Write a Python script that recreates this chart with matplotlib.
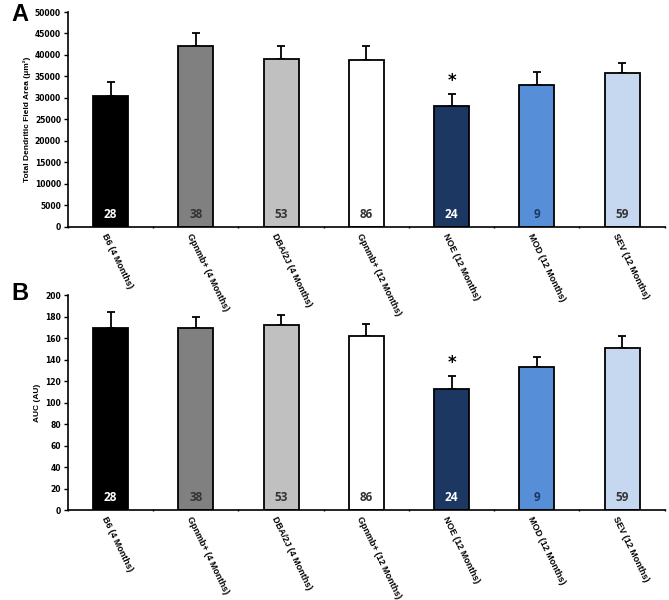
import numpy as np
import matplotlib.pyplot as plt

# Данные
groups = ['B6 (4 Months)', 'Gpnmb+ (4 Months)', 'DBA/2J (4 Months)', 'Gpnmb+ (12 Months)',
          'NOE (12 Months)', 'MOD (12 Months)', 'SEV (12 Months)']
n_counts = [28, 38, 53, 86, 24, 9, 59]
area_mean = [30500, 42200, 39100, 38800, 28100, 33000, 35700]
area_err = [3200, 3000, 2900, 3200, 2800, 3100, 2400]
auc_mean = [170, 170, 172, 162, 113, 133, 151]
auc_err = [14, 10, 10, 11, 12, 10, 11]
sig = [False, False, False, False, True, False, False]

colors = ['#000000', '#808080', '#c0c0c0', '#ffffff', '#1c3862', '#568fd8', '#c6d8f0']
n_colors = ['white', '#333333', '#333333', '#333333', 'white', '#1c3862', '#333333']

fig = plt.figure(figsize=(6.69, 6.0), dpi=100)
ax_a = fig.add_axes([0.1016, 0.6217, 0.892, 0.3583])
ax_b = fig.add_axes([0.1016, 0.15, 0.892, 0.3578])

x = np.arange(len(groups))


def draw_panel(ax, means, errs, ymax, ystep, ylabel, letter, letter_y):
    ax.patch.set_alpha(0)
    ax.bar(x, means, width=0.41, color=colors, edgecolor='black', linewidth=1.3, zorder=2)
    ax.errorbar(x, means, yerr=[np.zeros(len(errs)), errs], fmt='none', ecolor='black',
                elinewidth=1.3, capsize=3, capthick=1.3, zorder=1)
    ax.set_xlim(-0.5, len(groups) - 0.5)
    ax.set_ylim(0, ymax)
    ax.set_yticks(np.arange(0, ymax + 1, ystep))
    ax.tick_params(axis='y', labelsize=5.5, length=3, width=1, pad=2)
    for lab in ax.get_yticklabels():
        lab.set_fontweight('bold')
    ax.set_xticks(np.arange(len(groups) + 1) - 0.5, minor=False)
    ax.set_xticklabels([])
    ax.tick_params(axis='x', length=2, width=1, direction='inout')
    for i, g in enumerate(groups):
        ax.annotate(g, xy=(i - 0.08, 0), xycoords=('data', 'axes fraction'), xytext=(0, -5),
                    textcoords='offset points', rotation=-64, rotation_mode='anchor',
                    ha='left', va='center', fontsize=6.5, fontweight='bold',
                    family='Liberation Sans', annotation_clip=False, zorder=5)
    for i, n in enumerate(n_counts):
        ax.text(i, ymax * 0.056, str(n), ha='center', va='center', fontsize=8.5,
                fontweight='bold', color=n_colors[i], family='Open Sans', zorder=3)
    for i, s in enumerate(sig):
        if s:
            ax.text(i, means[i] + errs[i] + ymax * 0.06, '*', ha='center', va='center',
                    fontsize=12, fontweight='bold')
    ax.spines['top'].set_visible(False)
    ax.spines['right'].set_visible(False)
    ax.spines['left'].set_linewidth(1.2)
    ax.spines['bottom'].set_linewidth(1.2)
    ax.set_ylabel(ylabel, fontsize=6, fontweight='bold', family='Liberation Sans', labelpad=3)
    ax.text(-0.095, letter_y, letter, transform=ax.transAxes, fontsize=17, fontweight='bold',
            ha='left', va='center', family='Liberation Sans')


draw_panel(ax_a, area_mean, area_err, 50000, 5000, 'Total Dendritic Field Area (μm²)', 'A', 0.99)
draw_panel(ax_b, auc_mean, auc_err, 200, 20, 'AUC (AU)', 'B', 1.01)

fig.savefig('out.png', dpi=100)
